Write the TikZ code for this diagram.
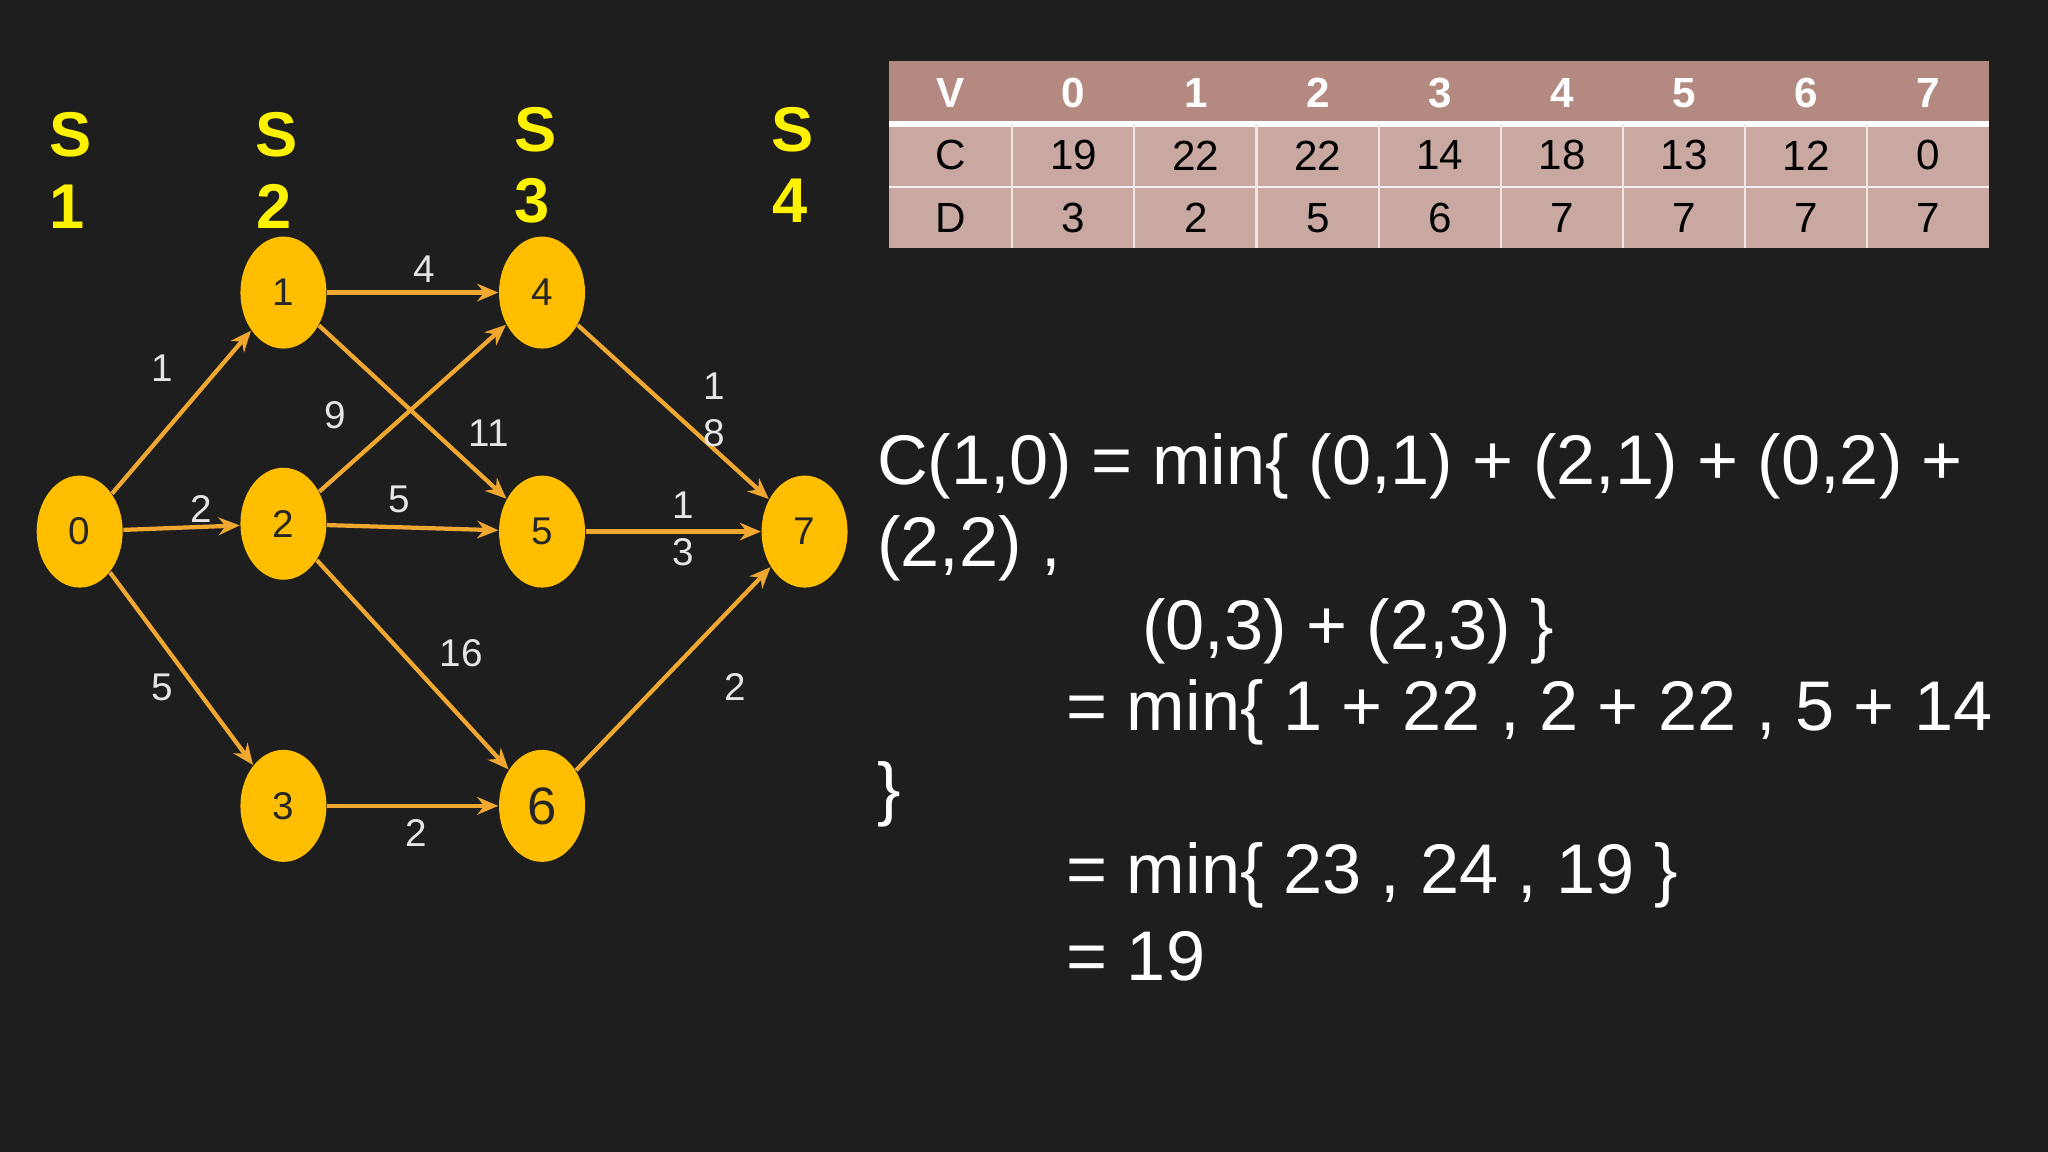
\documentclass[tikz,border=0pt]{standalone}
\usepackage{fontspec}
\setmainfont{Liberation Sans}
\begin{document}
\begin{tikzpicture}[x=0.01306cm,y=-0.01306cm,
  vert/.style={ellipse,fill=nodeY,minimum width=0.86cm,minimum height=1.12cm,inner sep=0pt,font=\fontsize{11}{13}\selectfont,text=black!85},
  edge/.style={draw=edgeO,line width=1.2pt,-{Stealth[length=6pt,width=5pt]}},
  elab/.style={text=white!90!black,font=\fontsize{11}{13}\selectfont},
  slab/.style={text=yellow,font=\fontsize{18}{20}\selectfont\bfseries},
  hd/.style={text=white,font=\fontsize{12}{14}\selectfont\bfseries},
  cell/.style={text=black,font=\fontsize{12}{14}\selectfont},
  eq/.style={text=white,font=\fontsize{20}{24}\selectfont,anchor=west}]
\usetikzlibrary{shapes.geometric,arrows.meta}
\definecolor{bg}{HTML}{1E1E1E}
\definecolor{nodeY}{HTML}{FFBF00}
\definecolor{edgeO}{HTML}{F0A830}
\definecolor{thd}{HTML}{B48A80}
\definecolor{tbd}{HTML}{C9A8A2}
\fill[bg] (0,0) rectangle (1568,882);
\useasboundingbox (0,0) rectangle (1568,882);
% S labels
\node[slab] (s1a) at (54,103) {S}; \node[slab] (s1b) at (51,158) {1};
\node[slab] (s2a) at (212,103) {S}; \node[slab] (s2b) at (210,158) {2};
\node[slab] (s3a) at (410,99) {S}; \node[slab] (s3b) at (407,154) {3};
\node[slab] (s4a) at (607,99) {S}; \node[slab] (s4b) at (605,154) {4};
% nodes
\node[vert] (n0) at (61,407) {0};
\node[vert] (n1) at (217,224) {1};
\node[vert] (n2) at (217,401) {2};
\node[vert] (n3) at (217,617) {3};
\node[vert] (n4) at (415,224) {4};
\node[vert] (n5) at (415,407) {5};
\node[vert,font=\fontsize{15}{17}\selectfont] (n6) at (415,617) {6};
\node[vert] (n7) at (616,407) {7};
\draw[edge] (n0) -- (n1); \draw[edge] (n0) -- (n2); \draw[edge] (n0) -- (n3);
\draw[edge] (n1) -- (n4); \draw[edge] (n1) -- (n5);
\draw[edge] (n2) -- (n4); \draw[edge] (n2) -- (n5); \draw[edge] (n2) -- (n6);
\draw[edge] (n3) -- (n6);
\draw[edge] (n4) -- (n7); \draw[edge] (n5) -- (n7); \draw[edge] (n6) -- (n7);
\node[elab] (l01) at (124,282) {1};
\node[elab] (l02) at (154,390) {2};
\node[elab] (l03) at (124,526) {5};
\node[elab] (l14) at (325,206) {4};
\node[elab] (l15) at (374,332) {11};
\node[elab] (l24) at (257,318) {9};
\node[elab] (l25) at (306,382) {5};
\node[elab] (l26) at (353,500) {16};
\node[elab] (l36) at (319,638) {2};
\node[elab] (l47a) at (547,296) {1};
\node[elab] (l47b) at (547,332) {8};
\node[elab] (l57a) at (523,387) {1};
\node[elab] (l57b) at (523,423) {3};
\node[elab] (l67) at (563,526) {2};
% table
\fill[thd] (681,47) rectangle (1523,95);
\fill[tbd] (681,95) rectangle (1523,190);
\draw[white,line width=1.5pt] (681,95) -- (1523,95);
\draw[white!80!tbd,line width=0.6pt] (681,143) -- (1523,143);
\foreach \i in {1,...,8} {\draw[white!70!tbd,line width=0.6pt] ({681+94+(\i-1)*93.5},95) -- ({681+94+(\i-1)*93.5},190);}
\node[hd] (hv) at (728,71) {V};
\node[cell] (hc) at (728,119) {C};
\node[cell] (hdd) at (728,167) {D};
\foreach \v/\c/\d [count=\k from 0] in {0/19/3,1/22/2,2/22/5,3/14/6,4/18/7,5/13/7,6/12/7,7/0/7} {
  \node[hd] (h\k) at ({822+\k*93.5},71) {\v};
  \node[cell] (c\k) at ({822+\k*93.5},119) {\c};
  \node[cell] (d\k) at ({822+\k*93.5},167) {\d};
}
% equations
\node[eq] (e1) at (662,357) {C(1,0) = min\{ (0,1) + (2,1) + (0,2) +};
\node[eq] (e2) at (662,420) {(2,2) ,};
\node[eq] (e3) at (865,483) {(0,3) + (2,3) \}};
\node[eq] (e4) at (807,545) {= min\{ 1 + 22 , 2 + 22 , 5 + 14};
\node[eq] (e5) at (662,608) {\}};
\node[eq] (e6) at (807,670) {= min\{ 23 , 24 , 19 \}};
\node[eq] (e7) at (807,732) {= 19};
\end{tikzpicture}
\end{document}
